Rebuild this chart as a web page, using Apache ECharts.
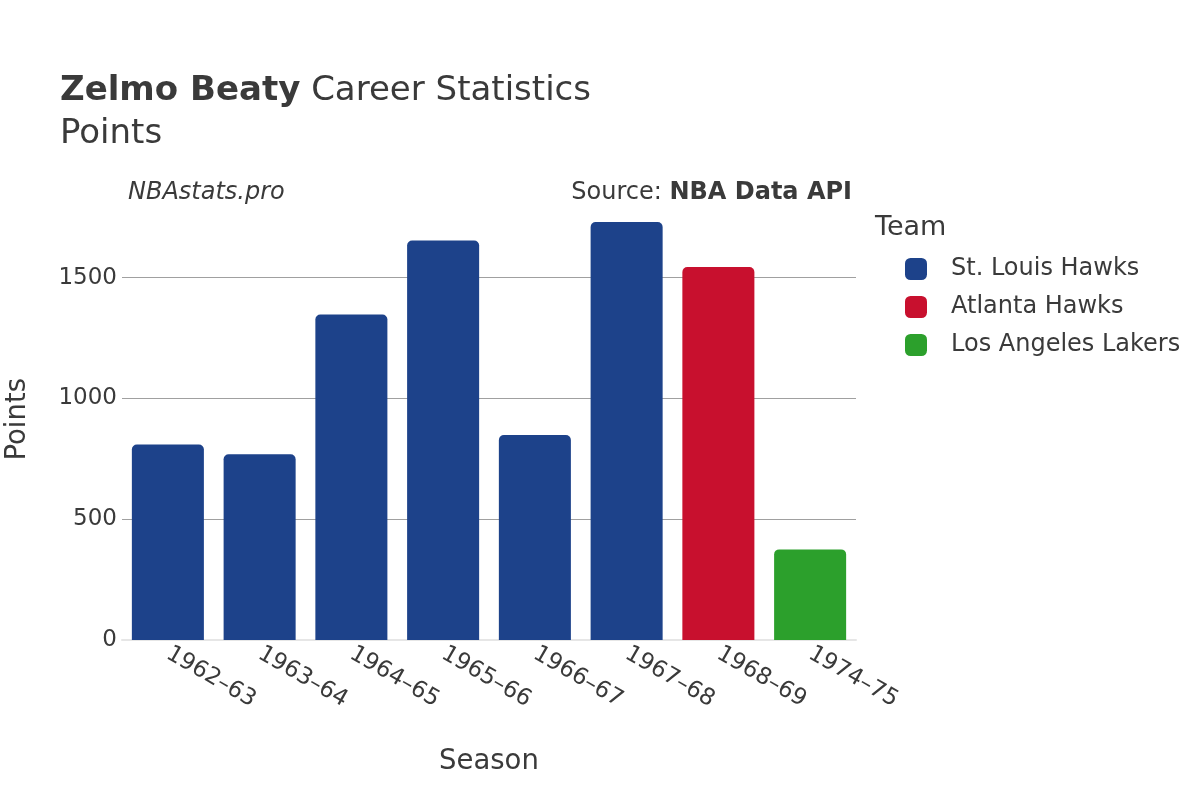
<!DOCTYPE html>
<html>
<head>
<meta charset="utf-8">
<script src="https://cdn.jsdelivr.net/npm/echarts@6/dist/echarts.min.js"></script>
<style>
  html, body { margin: 0; padding: 0; background: #fff; }
  #chart { width: 1200px; height: 800px; }
</style>
</head>
<body>
<div id="chart"></div>
<script>
// 赛季（横轴）
var seasons = ['1962–63', '1963–64', '1964–65', '1965–66', '1966–67', '1967–68', '1968–69', '1974–75']
// 各球队得分，空值表示该赛季不在此队
var stlHawks = [809, 769, 1347, 1653, 848, 1730, null, null]
var atlHawks = [null, null, null, null, null, null, 1544, null]
var laLakers = [null, null, null, null, null, null, null, 375]
var teams = ['St. Louis Hawks', 'Atlanta Hawks', 'Los Angeles Lakers']
var teamColors = ['#1d428a', '#c8102e', '#2ca02c']
var yTicks = [0, 500, 1000, 1500]

var font = 'DejaVu Sans'
var textColor = '#3a3a3a'

var chart = echarts.init(document.getElementById('chart'))

function barSeries(name, data, color) {
  return {
    name: name,
    type: 'bar',
    stack: 'season',
    barWidth: '78.5%',
    data: data,
    itemStyle: { color: color, borderRadius: [5, 5, 0, 0] }
  }
}

chart.setOption({
  animation: false,
  textStyle: { fontFamily: font, color: textColor },
  grid: { left: 122, right: 344, top: 200, bottom: 160, containLabel: false },
  // 图例
  legend: {
    orient: 'vertical',
    left: 900,
    top: 252,
    itemWidth: 22,
    itemHeight: 22,
    itemGap: 14,
    icon: 'roundRect',
    data: teams,
    textStyle: { fontFamily: font, fontSize: 24, color: textColor, padding: [0, 0, 0, 19] }
  },
  xAxis: {
    type: 'category',
    data: seasons,
    axisLine: { lineStyle: { color: '#e6e6e6', width: 2 } },
    axisTick: { show: false },
    axisLabel: { rotate: -30, fontSize: 23, color: textColor, margin: 12, fontFamily: font }
  },
  yAxis: {
    type: 'value',
    min: 0,
    max: 1821,
    interval: 500,
    axisLine: { show: false },
    axisTick: { show: false },
    axisLabel: {
      fontSize: 23, color: textColor, margin: 5, fontFamily: font, showMaxLabel: false,
      formatter: function (v) { return yTicks.indexOf(v) >= 0 ? String(v) : '' }
    },
    splitLine: { showMaxLine: false, lineStyle: { color: '#a0a0a0', width: 1 } }
  },
  series: [
    barSeries(teams[0], stlHawks, teamColors[0]),
    barSeries(teams[1], atlHawks, teamColors[1]),
    barSeries(teams[2], laLakers, teamColors[2])
  ],
  graphic: [
    {
      type: 'text', left: 60, top: 70,
      style: {
        text: '{b|Zelmo Beaty} Career Statistics\nPoints',
        font: '34px "DejaVu Sans"', fill: textColor, lineHeight: 43,
        rich: { b: { fontWeight: 'bold', fontSize: 34, fontFamily: font, fill: textColor, lineHeight: 43 } }
      }
    },
    {
      type: 'text', left: 128, top: 181,
      style: { text: 'NBAstats.pro', font: 'italic 24px "DejaVu Sans"', fill: textColor }
    },
    {
      type: 'text', right: 348, top: 181,
      style: {
        text: 'Source: {b|NBA Data API}',
        font: '24px "DejaVu Sans"', fill: textColor,
        rich: { b: { fontWeight: 'bold', fontSize: 24, fontFamily: font, fill: textColor } }
      }
    },
    {
      type: 'text', left: 875, top: 214,
      style: { text: 'Team', font: '27px "DejaVu Sans"', fill: textColor }
    },
    {
      type: 'text', left: 439, top: 748,
      style: { text: 'Season', font: '27.5px "DejaVu Sans"', fill: textColor }
    },
    {
      type: 'text', left: 4, top: 378, rotation: Math.PI / 2,
      style: { text: 'Points', font: '27.5px "DejaVu Sans"', fill: textColor }
    }
  ]
})
</script>
</body>
</html>
